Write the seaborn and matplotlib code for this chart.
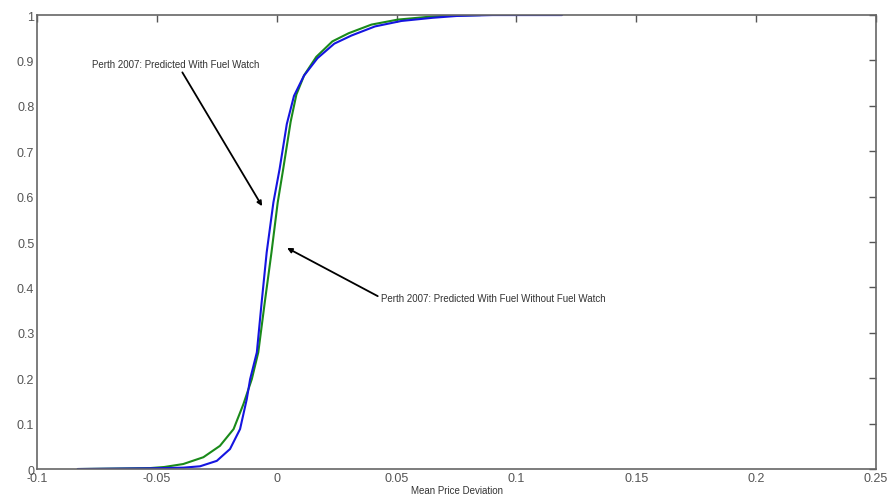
import pandas as pd
import numpy as np
import matplotlib.pyplot as plt
import seaborn as sb

# deviation where each curve reaches a given cumulative probability
blue_dev = [-0.083, -0.053, -0.039, -0.032, -0.025, -0.0195, -0.0153, -0.0125, -0.0111,
            -0.0083, -0.0063, -0.0042, -0.0014, 0.0012, 0.0042, 0.0072, 0.0113, 0.0170,
            0.0240, 0.0312, 0.0410, 0.0520, 0.065, 0.075, 0.09, 0.119]
blue_cdf = [0, 0.0015, 0.003, 0.006, 0.018, 0.044, 0.088, 0.154, 0.198,
            0.257, 0.367, 0.477, 0.587, 0.661, 0.760, 0.822, 0.866, 0.905,
            0.937, 0.955, 0.975, 0.987, 0.994, 0.998, 1.0, 1.0]

green_dev = [-0.083, -0.053, -0.047, -0.039, -0.0306, -0.0237, -0.018, -0.0139, -0.0104,
             -0.0077, -0.0050, -0.0022, 0.0004, 0.0027, 0.0058, 0.0082, 0.0115, 0.0165,
             0.0232, 0.0300, 0.0395, 0.0505, 0.063, 0.072, 0.085]
green_cdf = [0, 0.002, 0.0044, 0.011, 0.026, 0.051, 0.088, 0.143, 0.198,
             0.257, 0.367, 0.477, 0.587, 0.661, 0.765, 0.825, 0.868, 0.908,
             0.942, 0.960, 0.979, 0.990, 0.996, 0.999, 1.0]

xticks = [-0.1, -0.05, 0, 0.05, 0.1, 0.15, 0.2, 0.25]
yticks = [0, 0.1, 0.2, 0.3, 0.4, 0.5, 0.6, 0.7, 0.8, 0.9, 1]

sb.set_style("white")
plt.rcParams['font.family'] = ['Liberation Sans', 'DejaVu Sans']

blue = pd.DataFrame({'dev': blue_dev, 'cdf': blue_cdf})
green = pd.DataFrame({'dev': green_dev, 'cdf': green_cdf})

fig = plt.figure(figsize=(8.88, 5.02), dpi=100)
ax = fig.add_axes([0.0417, 0.0637, 0.9448, 0.9043])

sb.lineplot(data=green, x='dev', y='cdf', sort=False, color='#1a8a1a', lw=1.5, ax=ax)
sb.lineplot(data=blue, x='dev', y='cdf', sort=False, color='#1515e0', lw=1.5, ax=ax)

ax.set_xlim(-0.1, 0.25)
ax.set_ylim(0, 1)
ax.set_xticks(xticks)
ax.set_xticklabels([f"{t:g}" for t in xticks])
ax.set_yticks(yticks)
ax.set_yticklabels([f"{t:g}" for t in yticks])
ax.tick_params(direction='in', length=5, width=1, colors='#555555', labelsize=9,
               top=True, right=True, pad=2)
for s in ax.spines.values():
    s.set_color('#666666')
    s.set_linewidth(1.2)
ax.set_xlabel("Mean Price Deviation", fontsize=7, color='#333333', labelpad=1)
ax.set_ylabel("")

ax.annotate("Perth 2007: Predicted With Fuel Watch", xy=(-0.0061, 0.579),
            xytext=(-0.077, 0.892), fontsize=7, color='#333333', va='center',
            arrowprops=dict(arrowstyle='-|>', color='black', lw=1.3,
                            shrinkA=0, shrinkB=0, relpos=(0.52, 0.2)))
ax.annotate("Perth 2007: Predicted With Fuel Without Fuel Watch", xy=(0.0043, 0.487),
            xytext=(0.0435, 0.377), fontsize=7, color='#333333', va='center',
            arrowprops=dict(arrowstyle='-|>', color='black', lw=1.3,
                            shrinkA=0, shrinkB=0, relpos=(0, 0.5)))

plt.savefig("out.png", dpi=100)
